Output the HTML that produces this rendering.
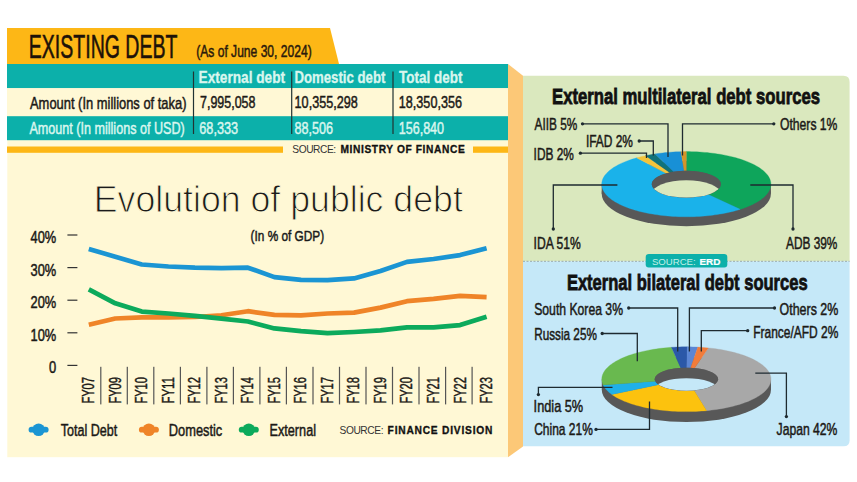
<!DOCTYPE html>
<html><head><meta charset="utf-8"><style>
html,body{margin:0;padding:0;background:#ffffff;width:857px;height:482px;overflow:hidden}
svg{display:block}
text{font-family:"Liberation Sans",sans-serif}
</style></head><body>
<svg width="857" height="482" viewBox="0 0 857 482" font-family="Liberation Sans, sans-serif"><rect x="7.3" y="64" width="500.7" height="393.2" fill="#fff8d5"/>
<path d="M7 28 L330 28 L339 64 L7 64 Z" fill="#fdb716"/>
<path d="M508 64 L523 75.8 L523 446.4 L508 457.2 Z" fill="#fcc877"/>
<rect x="7" y="64" width="501" height="24.2" fill="#0cb0aa"/>
<rect x="7" y="88.2" width="501" height="28" fill="#fff8d5"/>
<rect x="7" y="116.2" width="501" height="24" fill="#0cb0aa"/>
<rect x="192.9" y="71.5" width="1.2" height="62.5" fill="#233"/>
<rect x="291.09999999999997" y="71.5" width="1.2" height="62.5" fill="#233"/>
<rect x="392.4" y="71.5" width="1.2" height="62.5" fill="#233"/>
<rect x="7" y="146.5" width="276" height="6.3" fill="#fdb716"/>
<rect x="473" y="146.5" width="35" height="6.3" fill="#fdb716"/>
<text x="28.8" y="57.6" font-size="32.7" font-weight="normal" fill="#1e1208" textLength="148.6" lengthAdjust="spacingAndGlyphs"  stroke="#1e1208" stroke-width="0.6">EXISTING DEBT</text>
<text x="196.2" y="57.3" font-size="16.8" font-weight="normal" fill="#2a1a0c" textLength="115.5" lengthAdjust="spacingAndGlyphs"  stroke="#2a1a0c" stroke-width="0.5">(As of June 30, 2024)</text>
<text x="198.6" y="82.9" font-size="16.6" font-weight="bold" fill="#d9f6ee" textLength="86.5" lengthAdjust="spacingAndGlyphs"  stroke="#d9f6ee" stroke-width="0.35">External debt</text>
<text x="294.4" y="82.9" font-size="16.6" font-weight="bold" fill="#d9f6ee" textLength="91" lengthAdjust="spacingAndGlyphs"  stroke="#d9f6ee" stroke-width="0.35">Domestic debt</text>
<text x="399" y="82.9" font-size="16.6" font-weight="bold" fill="#d9f6ee" textLength="63.5" lengthAdjust="spacingAndGlyphs"  stroke="#d9f6ee" stroke-width="0.35">Total debt</text>
<text x="30" y="108.8" font-size="16.6" font-weight="normal" fill="#1c1a17" textLength="156.5" lengthAdjust="spacingAndGlyphs"  stroke="#1c1a17" stroke-width="0.5">Amount (In millions of taka)</text>
<text x="200" y="108.4" font-size="16.6" font-weight="normal" fill="#1c1a17" textLength="55.5" lengthAdjust="spacingAndGlyphs"  stroke="#1c1a17" stroke-width="0.5">7,995,058</text>
<text x="294.6" y="108.4" font-size="16.6" font-weight="normal" fill="#1c1a17" textLength="63.2" lengthAdjust="spacingAndGlyphs"  stroke="#1c1a17" stroke-width="0.5">10,355,298</text>
<text x="398.8" y="108.4" font-size="16.6" font-weight="normal" fill="#1c1a17" textLength="63.2" lengthAdjust="spacingAndGlyphs"  stroke="#1c1a17" stroke-width="0.5">18,350,356</text>
<text x="29.4" y="134" font-size="16.6" font-weight="normal" fill="#d9f6ee" textLength="155.3" lengthAdjust="spacingAndGlyphs"  stroke="#d9f6ee" stroke-width="0.5">Amount (In millions of USD)</text>
<text x="199.3" y="134" font-size="16.6" font-weight="normal" fill="#d9f6ee" textLength="38.8" lengthAdjust="spacingAndGlyphs"  stroke="#d9f6ee" stroke-width="0.5">68,333</text>
<text x="294.6" y="134" font-size="16.6" font-weight="normal" fill="#d9f6ee" textLength="38.5" lengthAdjust="spacingAndGlyphs"  stroke="#d9f6ee" stroke-width="0.5">88,506</text>
<text x="398.8" y="134" font-size="16.6" font-weight="normal" fill="#d9f6ee" textLength="45.2" lengthAdjust="spacingAndGlyphs"  stroke="#d9f6ee" stroke-width="0.5">156,840</text>
<text x="292.3" y="152.7" font-size="10.2" font-weight="normal" fill="#333" textLength="43.8" lengthAdjust="spacing" >SOURCE:</text>
<text x="340.5" y="152.7" font-size="10.2" font-weight="bold" fill="#111" textLength="124.2" lengthAdjust="spacing"  stroke="#111" stroke-width="0.3">MINISTRY OF FINANCE</text>
<text x="93.8" y="212.2" font-size="37.5" font-weight="normal" fill="#1b1b1b" textLength="369" lengthAdjust="spacingAndGlyphs" stroke="#fff8d5" stroke-width="1.0">Evolution of public debt</text>
<text x="250.6" y="240.7" font-size="15.3" font-weight="normal" fill="#1b1b1b" textLength="73.5" lengthAdjust="spacingAndGlyphs"  stroke="#1b1b1b" stroke-width="0.5">(In % of GDP)</text>
<rect x="67.4" y="234.4" width="10" height="1.2" fill="#333"/>
<text x="30.5" y="243.2" font-size="16.8" font-weight="normal" fill="#1c1a17" textLength="25.7" lengthAdjust="spacingAndGlyphs"  stroke="#1c1a17" stroke-width="0.5">40%</text>
<rect x="67.4" y="267.0" width="10" height="1.2" fill="#333"/>
<text x="30.5" y="275.8" font-size="16.8" font-weight="normal" fill="#1c1a17" textLength="25.7" lengthAdjust="spacingAndGlyphs"  stroke="#1c1a17" stroke-width="0.5">30%</text>
<rect x="67.4" y="299.59999999999997" width="10" height="1.2" fill="#333"/>
<text x="30.5" y="308.4" font-size="16.8" font-weight="normal" fill="#1c1a17" textLength="25.7" lengthAdjust="spacingAndGlyphs"  stroke="#1c1a17" stroke-width="0.5">20%</text>
<rect x="67.4" y="332.2" width="10" height="1.2" fill="#333"/>
<text x="30.5" y="341.0" font-size="16.8" font-weight="normal" fill="#1c1a17" textLength="25.7" lengthAdjust="spacingAndGlyphs"  stroke="#1c1a17" stroke-width="0.5">10%</text>
<rect x="67.4" y="364.79999999999995" width="10" height="1.2" fill="#333"/>
<text x="48.9" y="373.0" font-size="16.8" font-weight="normal" fill="#1c1a17" textLength="7.2" lengthAdjust="spacingAndGlyphs"  stroke="#1c1a17" stroke-width="0.5">0</text>
<polyline points="88.8,248.9 115.3,256.7 141.8,264.5 168.4,266.5 194.9,267.7 221.4,268.1 247.9,267.7 274.4,277.1 301.0,279.9 327.5,280.2 354.0,278.4 380.5,271.0 407.0,261.9 433.6,259.0 460.1,255.1 486.6,248.2" fill="none" stroke="#1b95d3" stroke-width="4.7" stroke-linejoin="round" stroke-linecap="butt"/>
<polyline points="88.8,324.7 115.3,318.5 141.8,317.4 168.4,317.3 194.9,317.0 221.4,315.3 247.9,311.2 274.4,314.8 301.0,315.3 327.5,313.5 354.0,312.6 380.5,307.6 407.0,301.2 433.6,298.9 460.1,295.9 486.6,297.1" fill="none" stroke="#ef8428" stroke-width="4.7" stroke-linejoin="round" stroke-linecap="butt"/>
<polyline points="88.8,289.4 115.3,303.3 141.8,311.6 168.4,313.5 194.9,315.9 221.4,318.7 247.9,321.5 274.4,328.4 301.0,331.2 327.5,333.1 354.0,332.0 380.5,330.4 407.0,327.4 433.6,327.4 460.1,325.1 486.6,316.7" fill="none" stroke="#0caa5c" stroke-width="4.7" stroke-linejoin="round" stroke-linecap="butt"/>
<text transform="translate(94.2,403.6) rotate(-90)" x="0" y="0" font-size="16.8" fill="#1c1a17" stroke="#1c1a17" stroke-width="0.45" textLength="26.6" lengthAdjust="spacingAndGlyphs">FY07</text>
<rect x="100.2" y="366.8" width="1.2" height="37.6" fill="#555"/>
<text transform="translate(120.7,403.6) rotate(-90)" x="0" y="0" font-size="16.8" fill="#1c1a17" stroke="#1c1a17" stroke-width="0.45" textLength="26.6" lengthAdjust="spacingAndGlyphs">FY09</text>
<rect x="126.7" y="366.8" width="1.2" height="37.6" fill="#555"/>
<text transform="translate(147.2,403.6) rotate(-90)" x="0" y="0" font-size="16.8" fill="#1c1a17" stroke="#1c1a17" stroke-width="0.45" textLength="26.6" lengthAdjust="spacingAndGlyphs">FY10</text>
<rect x="153.2" y="366.8" width="1.2" height="37.6" fill="#555"/>
<text transform="translate(173.8,403.6) rotate(-90)" x="0" y="0" font-size="16.8" fill="#1c1a17" stroke="#1c1a17" stroke-width="0.45" textLength="26.6" lengthAdjust="spacingAndGlyphs">FY11</text>
<rect x="179.8" y="366.8" width="1.2" height="37.6" fill="#555"/>
<text transform="translate(200.3,403.6) rotate(-90)" x="0" y="0" font-size="16.8" fill="#1c1a17" stroke="#1c1a17" stroke-width="0.45" textLength="26.6" lengthAdjust="spacingAndGlyphs">FY12</text>
<rect x="206.3" y="366.8" width="1.2" height="37.6" fill="#555"/>
<text transform="translate(226.8,403.6) rotate(-90)" x="0" y="0" font-size="16.8" fill="#1c1a17" stroke="#1c1a17" stroke-width="0.45" textLength="26.6" lengthAdjust="spacingAndGlyphs">FY13</text>
<rect x="232.8" y="366.8" width="1.2" height="37.6" fill="#555"/>
<text transform="translate(253.3,403.6) rotate(-90)" x="0" y="0" font-size="16.8" fill="#1c1a17" stroke="#1c1a17" stroke-width="0.45" textLength="26.6" lengthAdjust="spacingAndGlyphs">FY14</text>
<rect x="259.3" y="366.8" width="1.2" height="37.6" fill="#555"/>
<text transform="translate(279.8,403.6) rotate(-90)" x="0" y="0" font-size="16.8" fill="#1c1a17" stroke="#1c1a17" stroke-width="0.45" textLength="26.6" lengthAdjust="spacingAndGlyphs">FY15</text>
<rect x="285.8" y="366.8" width="1.2" height="37.6" fill="#555"/>
<text transform="translate(306.4,403.6) rotate(-90)" x="0" y="0" font-size="16.8" fill="#1c1a17" stroke="#1c1a17" stroke-width="0.45" textLength="26.6" lengthAdjust="spacingAndGlyphs">FY16</text>
<rect x="312.4" y="366.8" width="1.2" height="37.6" fill="#555"/>
<text transform="translate(332.9,403.6) rotate(-90)" x="0" y="0" font-size="16.8" fill="#1c1a17" stroke="#1c1a17" stroke-width="0.45" textLength="26.6" lengthAdjust="spacingAndGlyphs">FY17</text>
<rect x="338.9" y="366.8" width="1.2" height="37.6" fill="#555"/>
<text transform="translate(359.4,403.6) rotate(-90)" x="0" y="0" font-size="16.8" fill="#1c1a17" stroke="#1c1a17" stroke-width="0.45" textLength="26.6" lengthAdjust="spacingAndGlyphs">FY18</text>
<rect x="365.4" y="366.8" width="1.2" height="37.6" fill="#555"/>
<text transform="translate(385.9,403.6) rotate(-90)" x="0" y="0" font-size="16.8" fill="#1c1a17" stroke="#1c1a17" stroke-width="0.45" textLength="26.6" lengthAdjust="spacingAndGlyphs">FY19</text>
<rect x="391.9" y="366.8" width="1.2" height="37.6" fill="#555"/>
<text transform="translate(412.4,403.6) rotate(-90)" x="0" y="0" font-size="16.8" fill="#1c1a17" stroke="#1c1a17" stroke-width="0.45" textLength="26.6" lengthAdjust="spacingAndGlyphs">FY20</text>
<rect x="418.4" y="366.8" width="1.2" height="37.6" fill="#555"/>
<text transform="translate(439.0,403.6) rotate(-90)" x="0" y="0" font-size="16.8" fill="#1c1a17" stroke="#1c1a17" stroke-width="0.45" textLength="26.6" lengthAdjust="spacingAndGlyphs">FY21</text>
<rect x="445.0" y="366.8" width="1.2" height="37.6" fill="#555"/>
<text transform="translate(465.5,403.6) rotate(-90)" x="0" y="0" font-size="16.8" fill="#1c1a17" stroke="#1c1a17" stroke-width="0.45" textLength="26.6" lengthAdjust="spacingAndGlyphs">FY22</text>
<rect x="471.5" y="366.8" width="1.2" height="37.6" fill="#555"/>
<text transform="translate(492.0,403.6) rotate(-90)" x="0" y="0" font-size="16.8" fill="#1c1a17" stroke="#1c1a17" stroke-width="0.45" textLength="26.6" lengthAdjust="spacingAndGlyphs">FY23</text>
<ellipse cx="38.6" cy="429.7" rx="6.2" ry="6.3" fill="#1b95d3"/><rect x="28.6" y="426.8" width="20" height="5.8" rx="2.9" fill="#1b95d3"/>
<text x="60.7" y="435.8" font-size="17.4" font-weight="normal" fill="#1c1a17" textLength="56.5" lengthAdjust="spacingAndGlyphs"  stroke="#1c1a17" stroke-width="0.5">Total Debt</text>
<ellipse cx="148.9" cy="429.7" rx="6.2" ry="6.3" fill="#ef8428"/><rect x="138.9" y="426.8" width="20" height="5.8" rx="2.9" fill="#ef8428"/>
<text x="168.8" y="435.8" font-size="17.4" font-weight="normal" fill="#1c1a17" textLength="53.5" lengthAdjust="spacingAndGlyphs"  stroke="#1c1a17" stroke-width="0.5">Domestic</text>
<ellipse cx="248.8" cy="429.7" rx="6.2" ry="6.3" fill="#0caa5c"/><rect x="238.8" y="426.8" width="20" height="5.8" rx="2.9" fill="#0caa5c"/>
<text x="269.5" y="435.8" font-size="17.4" font-weight="normal" fill="#1c1a17" textLength="46.5" lengthAdjust="spacingAndGlyphs"  stroke="#1c1a17" stroke-width="0.5">External</text>
<text x="339.5" y="433.6" font-size="10.2" font-weight="normal" fill="#333" textLength="44" lengthAdjust="spacing" >SOURCE:</text>
<text x="387.6" y="433.6" font-size="10.2" font-weight="bold" fill="#111" textLength="104.8" lengthAdjust="spacing"  stroke="#111" stroke-width="0.3">FINANCE DIVISION</text>
<path d="M523 75.8 L843.5 75.8 Q849.6 75.8 849.6 82 L849.6 261.3 L523 261.3 Z" fill="#dae8be"/>
<path d="M523 261.3 L849.6 261.3 L849.6 440.2 Q849.6 446.2 843.6 446.2 L523 446.2 Z" fill="#c5e8f8"/>
<line x1="523" y1="261.3" x2="849.6" y2="261.3" stroke="#9aa" stroke-width="1" stroke-dasharray="2,1.5"/>
<rect x="645.7" y="254" width="81.6" height="13.6" rx="3" fill="#0cb0aa"/>
<text x="651.9" y="265" font-size="9.7" font-weight="normal" fill="#c4efe7" textLength="43.8" lengthAdjust="spacingAndGlyphs" >SOURCE:</text>
<text x="699.5" y="265" font-size="9.7" font-weight="bold" fill="#ffffff" textLength="20.9" lengthAdjust="spacingAndGlyphs"  stroke="#ffffff" stroke-width="0.2">ERD</text>
<text x="552" y="103.6" font-size="22.2" font-weight="bold" fill="#111" textLength="268" lengthAdjust="spacingAndGlyphs"  stroke="#111" stroke-width="0.8">External multilateral debt sources</text>
<text x="566.9" y="289.9" font-size="22.2" font-weight="bold" fill="#111" textLength="240.7" lengthAdjust="spacingAndGlyphs"  stroke="#111" stroke-width="0.8">External bilateral debt sources</text>
<ellipse cx="686.3" cy="193.7" rx="84.6" ry="32.6" fill="#585858"/><rect x="601.6999999999999" y="184.2" width="169.2" height="9.5" fill="#585858"/><path d="M686.30,151.60 L688.96,151.62 L691.61,151.66 L694.26,151.74 L696.90,151.86 L699.53,152.00 L702.15,152.18 L704.75,152.39 L707.34,152.62 L709.90,152.89 L712.44,153.20 L714.96,153.53 L717.44,153.89 L719.90,154.28 L722.32,154.70 L724.71,155.15 L727.06,155.63 L729.36,156.14 L731.63,156.67 L733.85,157.24 L736.03,157.83 L738.15,158.44 L740.23,159.08 L742.25,159.75 L744.21,160.44 L746.12,161.15 L747.97,161.88 L749.76,162.64 L751.49,163.42 L753.15,164.22 L754.74,165.04 L756.27,165.88 L757.73,166.73 L759.12,167.61 L760.44,168.49 L761.68,169.40 L762.85,170.32 L763.94,171.25 L764.96,172.20 L765.90,173.16 L766.76,174.13 L767.54,175.10 L768.24,176.09 L768.86,177.09 L769.40,178.09 L769.86,179.10 L770.23,180.11 L770.52,181.13 L770.73,182.15 L770.86,183.18 L770.90,184.20 L770.86,185.22 L770.73,186.25 L770.52,187.27 L770.23,188.29 L769.86,189.30 L769.40,190.31 L768.86,191.31 L768.24,192.31 L767.54,193.30 L766.76,194.27 L765.90,195.24 L764.96,196.20 L763.94,197.15 L762.85,198.08 L761.68,199.00 L760.44,199.91 L759.12,200.79 L757.73,201.67 L756.27,202.52 L754.74,203.36 L753.15,204.18 L751.49,204.98 L749.76,205.76 L747.97,206.52 L746.12,207.25 L744.21,207.96 L742.25,208.65 L740.23,209.32 L708.29,194.52 L709.12,194.25 L709.92,193.97 L710.70,193.68 L711.45,193.37 L712.18,193.06 L712.88,192.74 L713.56,192.41 L714.21,192.08 L714.83,191.73 L715.43,191.38 L716.00,191.02 L716.53,190.66 L717.04,190.28 L717.52,189.91 L717.96,189.52 L718.38,189.13 L718.76,188.74 L719.11,188.34 L719.43,187.94 L719.72,187.53 L719.97,187.12 L720.19,186.71 L720.38,186.30 L720.53,185.88 L720.65,185.46 L720.73,185.04 L720.78,184.62 L720.80,184.20 L720.78,183.78 L720.73,183.36 L720.65,182.94 L720.53,182.52 L720.38,182.10 L720.19,181.69 L719.97,181.28 L719.72,180.87 L719.43,180.46 L719.11,180.06 L718.76,179.66 L718.38,179.27 L717.96,178.88 L717.52,178.49 L717.04,178.12 L716.53,177.74 L716.00,177.38 L715.43,177.02 L714.83,176.67 L714.21,176.32 L713.56,175.99 L712.88,175.66 L712.18,175.34 L711.45,175.03 L710.70,174.72 L709.92,174.43 L709.12,174.15 L708.29,173.88 L707.45,173.61 L706.58,173.36 L705.69,173.12 L704.79,172.89 L703.86,172.67 L702.92,172.46 L701.96,172.26 L700.99,172.08 L700.00,171.90 L699.00,171.74 L697.99,171.59 L696.96,171.46 L695.93,171.33 L694.88,171.22 L693.83,171.12 L692.76,171.04 L691.70,170.96 L690.62,170.91 L689.55,170.86 L688.47,170.83 L687.38,170.81 L686.30,170.80Z" fill="#0ea55b" stroke="#0ea55b" stroke-width="0.3"/><path d="M740.23,209.32 L738.15,209.96 L736.03,210.57 L733.85,211.16 L731.63,211.73 L729.36,212.26 L727.06,212.77 L724.71,213.25 L722.32,213.70 L719.90,214.12 L717.44,214.51 L714.96,214.87 L712.44,215.20 L709.90,215.51 L707.34,215.78 L704.75,216.01 L702.15,216.22 L699.53,216.40 L696.90,216.54 L694.26,216.66 L691.61,216.74 L688.96,216.78 L686.30,216.80 L683.64,216.78 L680.99,216.74 L678.34,216.66 L675.70,216.54 L673.07,216.40 L670.45,216.22 L667.85,216.01 L665.26,215.78 L662.70,215.51 L660.16,215.20 L657.64,214.87 L655.16,214.51 L652.70,214.12 L650.28,213.70 L647.89,213.25 L645.54,212.77 L643.24,212.26 L640.97,211.73 L638.75,211.16 L636.57,210.57 L634.45,209.96 L632.37,209.32 L630.35,208.65 L628.39,207.96 L626.48,207.25 L624.63,206.52 L622.84,205.76 L621.11,204.98 L619.45,204.18 L617.86,203.36 L616.33,202.52 L614.87,201.67 L613.48,200.79 L612.16,199.91 L610.92,199.00 L609.75,198.08 L608.66,197.15 L607.64,196.20 L606.70,195.24 L605.84,194.27 L605.06,193.30 L604.36,192.31 L603.74,191.31 L603.20,190.31 L602.74,189.30 L602.37,188.29 L602.08,187.27 L601.87,186.25 L601.74,185.22 L601.70,184.20 L601.74,183.18 L601.87,182.15 L602.08,181.13 L602.37,180.11 L602.74,179.10 L603.20,178.09 L603.74,177.09 L604.36,176.09 L605.06,175.10 L605.84,174.13 L606.70,173.16 L607.64,172.20 L608.66,171.25 L609.75,170.32 L610.92,169.40 L612.16,168.49 L613.48,167.61 L614.87,166.73 L616.33,165.88 L617.86,165.04 L619.45,164.22 L621.11,163.42 L622.84,162.64 L624.63,161.88 L626.48,161.15 L628.39,160.44 L630.35,159.75 L632.37,159.08 L634.45,158.44 L636.57,157.83 L666.02,173.36 L665.15,173.61 L664.31,173.88 L663.48,174.15 L662.68,174.43 L661.90,174.72 L661.15,175.03 L660.42,175.34 L659.72,175.66 L659.04,175.99 L658.39,176.32 L657.77,176.67 L657.17,177.02 L656.60,177.38 L656.07,177.74 L655.56,178.12 L655.08,178.49 L654.64,178.88 L654.22,179.27 L653.84,179.66 L653.49,180.06 L653.17,180.46 L652.88,180.87 L652.63,181.28 L652.41,181.69 L652.22,182.10 L652.07,182.52 L651.95,182.94 L651.87,183.36 L651.82,183.78 L651.80,184.20 L651.82,184.62 L651.87,185.04 L651.95,185.46 L652.07,185.88 L652.22,186.30 L652.41,186.71 L652.63,187.12 L652.88,187.53 L653.17,187.94 L653.49,188.34 L653.84,188.74 L654.22,189.13 L654.64,189.52 L655.08,189.91 L655.56,190.28 L656.07,190.66 L656.60,191.02 L657.17,191.38 L657.77,191.73 L658.39,192.08 L659.04,192.41 L659.72,192.74 L660.42,193.06 L661.15,193.37 L661.90,193.68 L662.68,193.97 L663.48,194.25 L664.31,194.52 L665.15,194.79 L666.02,195.04 L666.91,195.28 L667.81,195.51 L668.74,195.73 L669.68,195.94 L670.64,196.14 L671.61,196.32 L672.60,196.50 L673.60,196.66 L674.61,196.81 L675.64,196.94 L676.67,197.07 L677.72,197.18 L678.77,197.28 L679.84,197.36 L680.90,197.44 L681.98,197.49 L683.05,197.54 L684.13,197.57 L685.22,197.59 L686.30,197.60 L687.38,197.59 L688.47,197.57 L689.55,197.54 L690.62,197.49 L691.70,197.44 L692.76,197.36 L693.83,197.28 L694.88,197.18 L695.93,197.07 L696.96,196.94 L697.99,196.81 L699.00,196.66 L700.00,196.50 L700.99,196.32 L701.96,196.14 L702.92,195.94 L703.86,195.73 L704.79,195.51 L705.69,195.28 L706.58,195.04 L707.45,194.79 L708.29,194.52Z" fill="#1ab2ea" stroke="#1ab2ea" stroke-width="0.3"/><path d="M636.57,157.83 L638.75,157.24 L640.97,156.67 L643.24,156.14 L645.54,155.63 L669.68,172.46 L668.74,172.67 L667.81,172.89 L666.91,173.12 L666.02,173.36Z" fill="#f3c43c" stroke="#f3c43c" stroke-width="0.3"/><path d="M645.54,155.63 L647.89,155.15 L650.28,154.70 L652.70,154.28 L655.16,153.89 L673.60,171.74 L672.60,171.90 L671.61,172.08 L670.64,172.26 L669.68,172.46Z" fill="#11727a" stroke="#11727a" stroke-width="0.3"/><path d="M655.16,153.89 L657.64,153.53 L660.16,153.20 L662.70,152.89 L665.26,152.62 L667.85,152.39 L670.45,152.18 L673.07,152.00 L675.70,151.86 L678.34,151.74 L680.99,151.66 L684.13,170.83 L683.05,170.86 L681.98,170.91 L680.90,170.96 L679.84,171.04 L678.77,171.12 L677.72,171.22 L676.67,171.33 L675.64,171.46 L674.61,171.59 L673.60,171.74Z" fill="#1890d6" stroke="#1890d6" stroke-width="0.3"/><path d="M680.99,151.66 L682.31,151.64 L683.64,151.62 L684.97,151.60 L686.30,151.60 L686.30,170.80 L685.76,170.80 L685.22,170.81 L684.67,170.81 L684.13,170.83Z" fill="#d5952a" stroke="#d5952a" stroke-width="0.3"/><clipPath id="h1"><ellipse cx="686.3" cy="184.2" rx="34.5" ry="13.4"/></clipPath><ellipse cx="686.3" cy="184.2" rx="34.5" ry="13.4" fill="#585858"/><ellipse cx="686.3" cy="193.7" rx="34.5" ry="13.4" fill="#dae8be" clip-path="url(#h1)"/>
<ellipse cx="686.4" cy="389.7" rx="84.6" ry="32.4" fill="#585858"/><rect x="601.8" y="379.2" width="169.2" height="10.5" fill="#585858"/><path d="M708.30,347.90 L710.85,348.18 L713.38,348.49 L715.89,348.83 L718.37,349.20 L720.81,349.60 L723.22,350.03 L725.59,350.49 L727.93,350.97 L730.23,351.49 L732.48,352.03 L734.68,352.59 L736.84,353.19 L738.95,353.81 L741.01,354.45 L743.01,355.12 L744.96,355.81 L746.84,356.53 L748.67,357.27 L750.44,358.03 L752.15,358.81 L753.79,359.61 L755.36,360.43 L756.87,361.27 L758.30,362.13 L759.67,363.00 L760.96,363.89 L762.18,364.79 L763.32,365.71 L764.39,366.64 L765.38,367.59 L766.29,368.54 L767.13,369.51 L767.88,370.49 L768.56,371.47 L769.15,372.46 L769.66,373.46 L770.09,374.47 L770.44,375.48 L770.70,376.49 L770.88,377.50 L770.98,378.52 L771.00,379.54 L770.93,380.56 L770.77,381.57 L770.54,382.59 L770.22,383.60 L769.82,384.60 L769.33,385.60 L768.76,386.60 L768.12,387.59 L767.39,388.56 L766.58,389.53 L765.69,390.49 L764.73,391.44 L763.69,392.38 L762.57,393.30 L761.37,394.21 L760.10,395.11 L758.76,395.98 L757.35,396.85 L755.87,397.69 L754.32,398.52 L752.70,399.33 L751.02,400.11 L749.27,400.88 L747.46,401.63 L745.59,402.35 L743.66,403.05 L741.68,403.73 L739.64,404.38 L737.55,405.01 L735.41,405.61 L733.22,406.19 L730.98,406.74 L728.70,407.26 L726.38,407.75 L724.02,408.22 L721.62,408.66 L719.18,409.07 L716.72,409.45 L714.22,409.80 L711.70,410.12 L709.15,410.41 L706.58,410.66 L693.96,390.37 L694.92,390.28 L695.88,390.17 L696.83,390.06 L697.76,389.94 L698.68,389.80 L699.60,389.66 L700.49,389.50 L701.38,389.33 L702.25,389.16 L703.10,388.97 L703.94,388.78 L704.76,388.57 L705.57,388.36 L706.35,388.14 L707.11,387.91 L707.86,387.67 L708.58,387.42 L709.28,387.16 L709.96,386.90 L710.61,386.62 L711.24,386.34 L711.85,386.06 L712.43,385.76 L712.99,385.46 L713.52,385.16 L714.02,384.85 L714.49,384.53 L714.94,384.21 L715.36,383.88 L715.75,383.55 L716.11,383.21 L716.44,382.87 L716.75,382.52 L717.02,382.18 L717.26,381.83 L717.47,381.47 L717.66,381.12 L717.81,380.76 L717.93,380.40 L718.01,380.04 L718.07,379.68 L718.10,379.32 L718.09,378.96 L718.06,378.60 L717.99,378.24 L717.89,377.88 L717.76,377.52 L717.60,377.16 L717.41,376.81 L717.18,376.46 L716.93,376.11 L716.65,375.76 L716.34,375.42 L715.99,375.08 L715.62,374.74 L715.22,374.41 L714.79,374.09 L714.34,373.77 L713.85,373.45 L713.34,373.14 L712.80,372.84 L712.24,372.54 L711.65,372.25 L711.04,371.96 L710.40,371.69 L709.73,371.42 L709.05,371.15 L708.34,370.90 L707.61,370.65 L706.86,370.42 L706.09,370.19 L705.30,369.97 L704.49,369.76 L703.67,369.56 L702.82,369.36 L701.96,369.18 L701.09,369.01 L700.20,368.85 L699.29,368.69 L698.38,368.55 L697.45,368.42 L696.51,368.30 L695.56,368.19 L694.60,368.09Z" fill="#a8a8a8" stroke="#a8a8a8" stroke-width="0.3"/><path d="M706.58,410.66 L703.99,410.89 L701.38,411.09 L698.76,411.25 L696.12,411.39 L693.48,411.49 L690.83,411.56 L688.17,411.59 L685.51,411.60 L682.86,411.57 L680.20,411.51 L677.56,411.42 L674.92,411.30 L672.29,411.15 L669.68,410.96 L667.08,410.74 L664.50,410.50 L661.95,410.22 L659.42,409.91 L656.91,409.57 L654.43,409.20 L651.99,408.80 L649.58,408.37 L647.21,407.91 L644.87,407.43 L642.57,406.91 L640.32,406.37 L638.12,405.81 L635.96,405.21 L633.85,404.59 L631.79,403.95 L629.79,403.28 L627.84,402.59 L625.96,401.87 L624.13,401.13 L622.36,400.37 L620.65,399.59 L619.01,398.79 L617.44,397.97 L615.93,397.13 L614.50,396.27 L613.13,395.40 L611.84,394.51 L658.46,384.63 L658.95,384.95 L659.46,385.26 L660.00,385.56 L660.56,385.86 L661.15,386.15 L661.76,386.44 L662.40,386.71 L663.07,386.98 L663.75,387.25 L664.46,387.50 L665.19,387.75 L665.94,387.98 L666.71,388.21 L667.50,388.43 L668.31,388.64 L669.13,388.84 L669.98,389.04 L670.84,389.22 L671.71,389.39 L672.60,389.55 L673.51,389.71 L674.42,389.85 L675.35,389.98 L676.29,390.10 L677.24,390.21 L678.20,390.31 L679.16,390.40 L680.13,390.47 L681.11,390.54 L682.10,390.59 L683.09,390.64 L684.08,390.67 L685.07,390.69 L686.07,390.70 L687.06,390.70 L688.06,390.68 L689.05,390.66 L690.04,390.62 L691.03,390.58 L692.01,390.52 L692.99,390.45 L693.96,390.37Z" fill="#fcc20e" stroke="#fcc20e" stroke-width="0.3"/><path d="M611.84,394.51 L610.62,393.61 L609.48,392.69 L608.41,391.76 L607.42,390.81 L606.51,389.86 L605.67,388.89 L604.92,387.91 L604.24,386.93 L603.65,385.94 L603.14,384.94 L655.20,381.24 L655.39,381.59 L655.62,381.94 L655.87,382.29 L656.15,382.64 L656.46,382.98 L656.81,383.32 L657.18,383.66 L657.58,383.99 L658.01,384.31 L658.46,384.63Z" fill="#1fb0e8" stroke="#1fb0e8" stroke-width="0.3"/><path d="M603.14,384.94 L602.71,383.93 L602.36,382.92 L602.10,381.91 L601.92,380.90 L601.82,379.88 L601.80,378.86 L601.87,377.84 L602.03,376.83 L602.26,375.81 L602.58,374.80 L602.98,373.80 L603.47,372.80 L604.04,371.80 L604.68,370.81 L605.41,369.84 L606.22,368.87 L607.11,367.91 L608.07,366.96 L609.11,366.02 L610.23,365.10 L611.43,364.19 L612.70,363.29 L614.04,362.42 L615.45,361.55 L616.93,360.71 L618.48,359.88 L620.10,359.07 L621.78,358.29 L623.53,357.52 L625.34,356.77 L627.21,356.05 L629.14,355.35 L631.12,354.67 L633.16,354.02 L635.25,353.39 L637.39,352.79 L639.58,352.21 L641.82,351.66 L644.10,351.14 L646.42,350.65 L648.78,350.18 L651.18,349.74 L653.62,349.33 L656.08,348.95 L658.58,348.60 L661.10,348.28 L663.65,347.99 L666.22,347.74 L668.81,347.51 L671.42,347.31 L680.79,367.88 L679.81,367.95 L678.84,368.03 L677.88,368.12 L676.92,368.23 L675.97,368.34 L675.04,368.46 L674.12,368.60 L673.20,368.74 L672.31,368.90 L671.42,369.07 L670.55,369.24 L669.70,369.43 L668.86,369.62 L668.04,369.83 L667.23,370.04 L666.45,370.26 L665.69,370.49 L664.94,370.73 L664.22,370.98 L663.52,371.24 L662.84,371.50 L662.19,371.78 L661.56,372.06 L660.95,372.34 L660.37,372.64 L659.81,372.94 L659.28,373.24 L658.78,373.55 L658.31,373.87 L657.86,374.19 L657.44,374.52 L657.05,374.85 L656.69,375.19 L656.36,375.53 L656.05,375.88 L655.78,376.22 L655.54,376.57 L655.33,376.93 L655.14,377.28 L654.99,377.64 L654.87,378.00 L654.79,378.36 L654.73,378.72 L654.70,379.08 L654.71,379.44 L654.74,379.80 L654.81,380.16 L654.91,380.52 L655.04,380.88 L655.20,381.24Z" fill="#69b94f" stroke="#69b94f" stroke-width="0.3"/><path d="M671.42,347.31 L674.04,347.15 L676.68,347.01 L679.32,346.91 L681.97,346.84 L684.63,346.81 L687.29,346.80 L686.73,367.70 L685.74,367.70 L684.74,367.72 L683.75,367.74 L682.76,367.78 L681.77,367.82 L680.79,367.88Z" fill="#2b58a8" stroke="#2b58a8" stroke-width="0.3"/><path d="M687.29,346.80 L689.94,346.83 L692.60,346.89 L695.24,346.98 L697.88,347.10 L690.70,367.81 L689.71,367.76 L688.72,367.73 L687.73,367.71 L686.73,367.70Z" fill="#5b86d4" stroke="#5b86d4" stroke-width="0.3"/><path d="M697.88,347.10 L700.51,347.25 L703.12,347.44 L705.72,347.66 L708.30,347.90 L694.60,368.09 L693.64,368.00 L692.67,367.93 L691.69,367.86 L690.70,367.81Z" fill="#f17c3a" stroke="#f17c3a" stroke-width="0.3"/><clipPath id="h2"><ellipse cx="686.4" cy="379.2" rx="31.7" ry="11.5"/></clipPath><ellipse cx="686.4" cy="379.2" rx="31.7" ry="11.5" fill="#585858"/><ellipse cx="686.4" cy="389.7" rx="31.7" ry="11.5" fill="#c5e8f8" clip-path="url(#h2)"/>
<path d="M582.5,123.8 L668,123.8 L668,157" fill="none" stroke="#1e2a30" stroke-width="1.3"/><circle cx="582.5" cy="123.8" r="1.65" fill="#1e2a30"/>
<path d="M773.8,123.8 L682.5,123.8 L682.5,155.5" fill="none" stroke="#1e2a30" stroke-width="1.3"/><circle cx="773.8" cy="123.8" r="1.65" fill="#1e2a30"/>
<path d="M639.2,141 L653.3,141 L653.3,155.5" fill="none" stroke="#1e2a30" stroke-width="1.3"/><circle cx="639.2" cy="141" r="1.65" fill="#1e2a30"/>
<path d="M580.4,153.2 L646.5,153.2 L646.5,158" fill="none" stroke="#1e2a30" stroke-width="1.3"/><circle cx="580.4" cy="153.2" r="1.65" fill="#1e2a30"/>
<path d="M553.3,229 L553.3,185 L617.4,185" fill="none" stroke="#1e2a30" stroke-width="1.3"/><circle cx="553.3" cy="229" r="1.65" fill="#1e2a30"/>
<path d="M793,229 L793,185 L750.3,185" fill="none" stroke="#1e2a30" stroke-width="1.3"/><circle cx="793" cy="229" r="1.65" fill="#1e2a30"/>
<text x="534.6" y="130.3" font-size="16.6" font-weight="normal" fill="#1c1a17" textLength="42.7" lengthAdjust="spacingAndGlyphs"  stroke="#1c1a17" stroke-width="0.5">AIIB 5%</text>
<text x="780" y="129.7" font-size="16.6" font-weight="normal" fill="#1c1a17" textLength="57.4" lengthAdjust="spacingAndGlyphs"  stroke="#1c1a17" stroke-width="0.5">Others 1%</text>
<text x="585.9" y="147" font-size="16.6" font-weight="normal" fill="#1c1a17" textLength="47" lengthAdjust="spacingAndGlyphs"  stroke="#1c1a17" stroke-width="0.5">IFAD 2%</text>
<text x="533.6" y="160.1" font-size="16.6" font-weight="normal" fill="#1c1a17" textLength="40.2" lengthAdjust="spacingAndGlyphs"  stroke="#1c1a17" stroke-width="0.5">IDB 2%</text>
<text x="533.6" y="248.7" font-size="16.6" font-weight="normal" fill="#1c1a17" textLength="47.2" lengthAdjust="spacingAndGlyphs"  stroke="#1c1a17" stroke-width="0.5">IDA 51%</text>
<text x="786" y="248.7" font-size="16.6" font-weight="normal" fill="#1c1a17" textLength="51.4" lengthAdjust="spacingAndGlyphs"  stroke="#1c1a17" stroke-width="0.5">ADB 39%</text>
<path d="M628.7,308 L677.7,308 L677.7,351.5" fill="none" stroke="#1e2a30" stroke-width="1.3"/><circle cx="628.7" cy="308" r="1.65" fill="#1e2a30"/>
<path d="M774.5,308 L689.4,308 L689.4,351.5" fill="none" stroke="#1e2a30" stroke-width="1.3"/><circle cx="774.5" cy="308" r="1.65" fill="#1e2a30"/>
<path d="M747.7,330.7 L701.3,330.7 L701.3,351.5" fill="none" stroke="#1e2a30" stroke-width="1.3"/><circle cx="747.7" cy="330.7" r="1.65" fill="#1e2a30"/>
<path d="M602.2,333.5 L637.3,333.5 L637.3,361.3" fill="none" stroke="#1e2a30" stroke-width="1.3"/><circle cx="602.2" cy="333.5" r="1.65" fill="#1e2a30"/>
<path d="M538.4,394.6 L538.4,387.4 L612.5,387.4" fill="none" stroke="#1e2a30" stroke-width="1.3"/><circle cx="538.4" cy="394.6" r="1.65" fill="#1e2a30"/>
<path d="M596,429.4 L649.5,429.4 L649.5,401.5" fill="none" stroke="#1e2a30" stroke-width="1.3"/><circle cx="596" cy="429.4" r="1.65" fill="#1e2a30"/>
<path d="M786.4,416.6 L786.4,373.2 L755.3,373.2" fill="none" stroke="#1e2a30" stroke-width="1.3"/><circle cx="786.4" cy="416.6" r="1.65" fill="#1e2a30"/>
<text x="534.2" y="314.5" font-size="16.6" font-weight="normal" fill="#1c1a17" textLength="88.8" lengthAdjust="spacingAndGlyphs"  stroke="#1c1a17" stroke-width="0.5">South Korea 3%</text>
<text x="779.6" y="314.5" font-size="16.6" font-weight="normal" fill="#1c1a17" textLength="58.7" lengthAdjust="spacingAndGlyphs"  stroke="#1c1a17" stroke-width="0.5">Others 2%</text>
<text x="753.2" y="338" font-size="16.6" font-weight="normal" fill="#1c1a17" textLength="85.1" lengthAdjust="spacingAndGlyphs"  stroke="#1c1a17" stroke-width="0.5">France/AFD 2%</text>
<text x="534.2" y="340" font-size="16.6" font-weight="normal" fill="#1c1a17" textLength="62.7" lengthAdjust="spacingAndGlyphs"  stroke="#1c1a17" stroke-width="0.5">Russia 25%</text>
<text x="533.6" y="411.7" font-size="16.6" font-weight="normal" fill="#1c1a17" textLength="49.6" lengthAdjust="spacingAndGlyphs"  stroke="#1c1a17" stroke-width="0.5">India 5%</text>
<text x="534.2" y="435.2" font-size="16.6" font-weight="normal" fill="#1c1a17" textLength="58.6" lengthAdjust="spacingAndGlyphs"  stroke="#1c1a17" stroke-width="0.5">China 21%</text>
<text x="776.6" y="435.4" font-size="16.6" font-weight="normal" fill="#1c1a17" textLength="60.8" lengthAdjust="spacingAndGlyphs"  stroke="#1c1a17" stroke-width="0.5">Japan 42%</text></svg>
</body></html>
